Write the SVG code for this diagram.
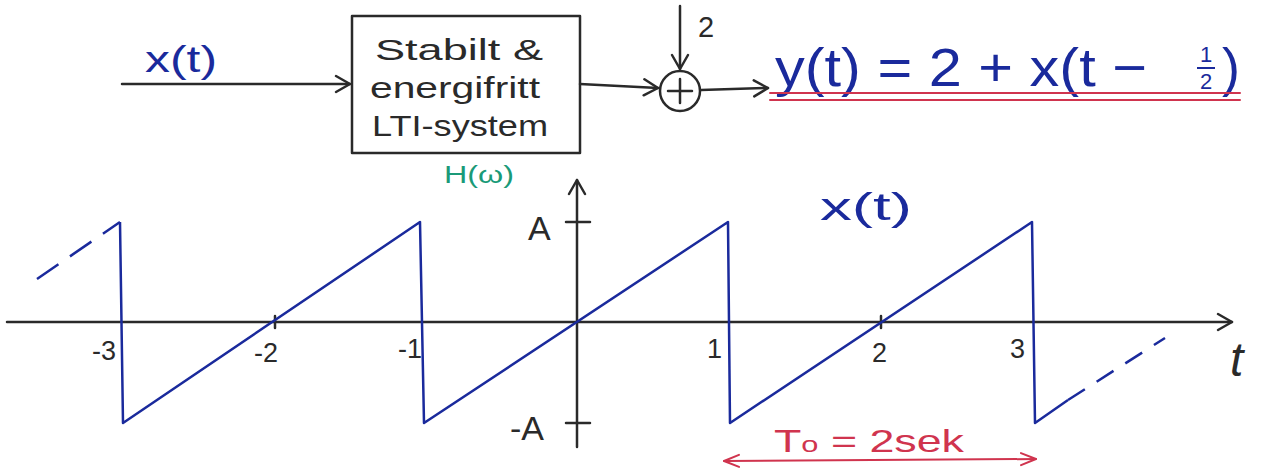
<svg xmlns="http://www.w3.org/2000/svg" width="1270" height="474" viewBox="0 0 1270 474">
<style>
.k{stroke:#2a2a2a;stroke-width:2.5;fill:none;stroke-linecap:round;stroke-linejoin:round}
.b{stroke:#1a2a9c;stroke-width:2.5;fill:none;stroke-linejoin:round}
.r{stroke:#d0344e;stroke-width:2;fill:none;stroke-linecap:round}
.tk{font-family:"Liberation Sans",sans-serif;fill:#2a2a2a}
.tb{font-family:"Liberation Sans",sans-serif;fill:#1a2a9c}
</style>
<defs>
<marker id="ah" markerWidth="20" markerHeight="20" refX="16" refY="10" orient="auto" markerUnits="userSpaceOnUse">
<path d="M2,2 L16,10 L2,18" fill="none" stroke="#2a2a2a" stroke-width="2.5" stroke-linecap="round" stroke-linejoin="round"/>
</marker>
<marker id="ahr" markerWidth="20" markerHeight="16" refX="16" refY="8" orient="auto-start-reverse" markerUnits="userSpaceOnUse">
<path d="M1,2 L16,8 L1,14" fill="none" stroke="#d0344e" stroke-width="2" stroke-linecap="round" stroke-linejoin="round"/>
</marker>
</defs>
<rect width="1270" height="474" fill="#ffffff"/>

<g id="connectors">
<line class="k" x1="122" y1="84" x2="350" y2="84" marker-end="url(#ah)"/>
<line class="k" x1="580" y1="84" x2="658" y2="88" marker-end="url(#ah)"/>
<line class="k" x1="680" y1="6" x2="680" y2="69" marker-end="url(#ah)"/>
<line class="k" x1="701" y1="90" x2="768" y2="88" marker-end="url(#ah)"/>
</g>

<g id="input">
<text class="tb" x="145" y="72" font-size="36" textLength="72" lengthAdjust="spacingAndGlyphs">x(t)</text>
</g>

<g id="system">
<rect class="k" x="352" y="16" width="228" height="137"/>
<text class="tk" x="375" y="60" font-size="29" textLength="168" lengthAdjust="spacingAndGlyphs">Stabilt &amp;</text>
<text class="tk" x="370" y="98" font-size="29" textLength="170" lengthAdjust="spacingAndGlyphs">energifritt</text>
<text class="tk" x="372" y="136" font-size="29" textLength="176" lengthAdjust="spacingAndGlyphs">LTI-system</text>
<text x="444" y="183" font-size="23" font-family="Liberation Sans,sans-serif" fill="#1a9a78" textLength="70" lengthAdjust="spacingAndGlyphs">H(ω)</text>
</g>

<g id="sum">
<circle class="k" cx="680" cy="91" r="20"/>
<line class="k" x1="680" y1="79" x2="680" y2="103"/>
<line class="k" x1="668" y1="91" x2="692" y2="91"/>
<text class="tk" x="698" y="37" font-size="29">2</text>
</g>

<g id="output">
<text class="tb" x="775" y="86" font-size="54" textLength="372" lengthAdjust="spacingAndGlyphs">y(t) = 2 + x(t −</text>
<text class="tb" x="1206" y="62" font-size="22" text-anchor="middle">1</text>
<line x1="1197" y1="68" x2="1215" y2="68" stroke="#1a2a9c" stroke-width="2"/>
<text class="tb" x="1206" y="89" font-size="22" text-anchor="middle">2</text>
<text class="tb" x="1222" y="86" font-size="54">)</text>
<line class="r" x1="770" y1="93" x2="1240" y2="93"/>
<line class="r" x1="770" y1="100" x2="1240" y2="100" stroke-width="1.6"/>
</g>

<g id="axes">
<line class="k" x1="7" y1="322" x2="1232" y2="322" marker-end="url(#ah)"/>
<line class="k" x1="577" y1="447" x2="577" y2="180" marker-end="url(#ah)"/>
<line class="k" x1="566" y1="222" x2="590" y2="222"/>
<line class="k" x1="566" y1="423" x2="590" y2="423"/>
<line class="k" x1="275" y1="316" x2="275" y2="328"/>
<line class="k" x1="881" y1="316" x2="881" y2="328"/>
<text class="tk" x="528" y="240" font-size="34">A</text>
<text class="tk" x="510" y="440" font-size="34">-A</text>
<text class="tk" x="92" y="360" font-size="27">-3</text>
<text class="tk" x="254" y="362" font-size="27">-2</text>
<text class="tk" x="398" y="358" font-size="27">-1</text>
<text class="tk" x="707" y="358" font-size="27">1</text>
<text class="tk" x="872" y="362" font-size="27">2</text>
<text class="tk" x="1010" y="358" font-size="27">3</text>
<text class="tk" x="1230" y="376" font-size="48" font-style="italic">t</text>
</g>

<g id="signal">
<text class="tb" x="820" y="220" font-size="38" textLength="92" lengthAdjust="spacingAndGlyphs">x(t)</text>
<polyline class="b" points="120,222 123,423 420,222 424,423 728,222 730,423 1032,222 1035,423 1068,400"/>
<line class="b" x1="37" y1="279" x2="120" y2="222" stroke-dasharray="26,14"/>
<line class="b" x1="1068" y1="400" x2="1165" y2="338" stroke-dasharray="20,14"/>
</g>

<g id="period">
<text x="774" y="452" font-size="32" font-family="Liberation Sans,sans-serif" fill="#d0344e" textLength="190" lengthAdjust="spacingAndGlyphs">T<tspan font-size="22">o</tspan> = 2sek</text>
<line class="r" x1="724" y1="461" x2="1036" y2="459" marker-start="url(#ahr)" marker-end="url(#ahr)"/>
</g>
</svg>
